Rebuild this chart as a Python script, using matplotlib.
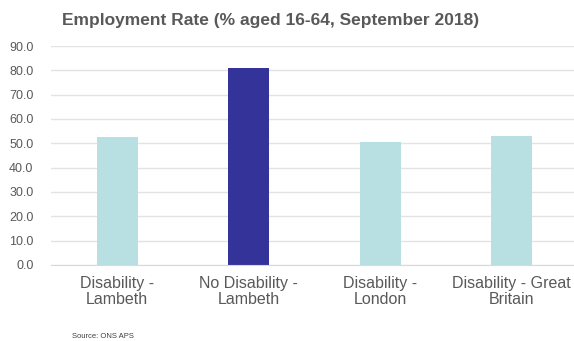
import matplotlib.pyplot as plt
import numpy as np

plt.rcParams['font.family'] = ['Liberation Sans', 'DejaVu Sans']

# Employment rate by disability status, September 2018
categories = ['Disability -\nLambeth', 'No Disability -\nLambeth',
              'Disability -\nLondon', 'Disability - Great\nBritain']
rates = [52.6, 80.8, 50.6, 53.0]
bar_colors = ['#b8dfe2', '#333399', '#b8dfe2', '#b8dfe2']
yticks = np.arange(0, 100, 10)

fig = plt.figure(figsize=(5.74, 3.41), dpi=100)
ax = fig.add_axes([0.0897, 0.2229, 0.9165, 0.6422])

x = np.arange(len(categories))
ax.bar(x, rates, width=0.31, color=bar_colors, zorder=2)

ax.set_xlim(-0.5, len(categories) - 0.5)
ax.set_ylim(0, 90)
ax.set_yticks(yticks)
ax.set_yticklabels([f'{v:.1f}' for v in yticks], color='#595959', fontsize=9)
ax.set_xticks(x)
ax.set_xticklabels(categories, color='#595959', fontsize=11.5, linespacing=1.05)
ax.tick_params(axis='both', length=0)
ax.tick_params(axis='y', pad=13)
ax.tick_params(axis='x', pad=8)

ax.grid(axis='y', color='#e3e3e3', lw=1.0, zorder=0)
for side in ['top', 'right', 'left']:
    ax.spines[side].set_visible(False)
ax.spines['bottom'].set_color('#d9d9d9')

fig.text(0.472, 0.94, 'Employment Rate (% aged 16-64, September 2018)',
         ha='center', va='center', fontsize=12.5, fontweight='bold', color='#595959')
fig.text(0.125, 0.002, 'Source: ONS APS', ha='left', va='bottom',
         fontsize=5.5, color='#404040')

fig.savefig('out.png', dpi=100)
